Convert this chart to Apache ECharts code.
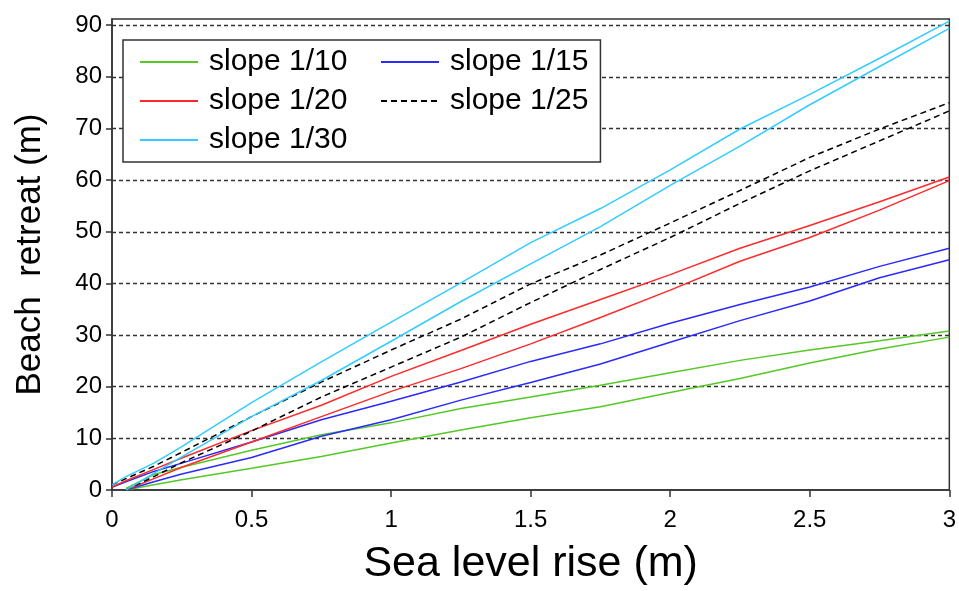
<!DOCTYPE html>
<html>
<head>
<meta charset="utf-8">
<script src="https://cdn.jsdelivr.net/npm/echarts@6/dist/echarts.min.js"></script>
<style>
  html, body { margin: 0; padding: 0; background: #fff; }
  #chart { width: 959px; height: 591px; }
</style>
</head>
<body>
<div id="chart"></div>
<script>
// Sea level rise (m) sample points shared by every curve
const seaLevelRise = [0, 0.05, 0.15, 0.25, 0.5, 0.75, 1, 1.25, 1.5, 1.75, 2, 2.25, 2.5, 2.75, 3];

// Beach retreat (m): upper and lower bound for each beach slope
const slope10Upper = [null, 0.3, 3.0, 4.4, 7.7, 10.7, 13.0, 15.8, 18.0, 20.3, 22.7, 25.1, 27.1, 28.9, 30.8];
const slope10Lower = [null, 0, 1.0, 2.0, 4.2, 6.5, 9.1, 11.6, 14.0, 16.1, 18.9, 21.6, 24.6, 27.3, 29.6];
const slope15Upper = [0.5, 1.6, 3.6, 5.2, 9.3, 13.6, 17.2, 20.9, 24.9, 28.3, 32.3, 35.9, 39.3, 43.3, 46.8];
const slope15Lower = [null, 0, 1.6, 3.1, 6.3, 10.4, 13.6, 17.4, 20.8, 24.4, 28.6, 32.8, 36.6, 41.1, 44.6];
const slope20Upper = [0.6, 1.8, 4.0, 6.2, 11.5, 16.4, 22.0, 27.0, 32.1, 36.9, 41.7, 46.8, 51.2, 55.8, 60.6];
const slope20Lower = [null, 0, 2.2, 4.4, 9.3, 14.2, 19.1, 23.5, 28.3, 33.4, 38.7, 44.3, 48.9, 54.2, 59.9];
const slope25Upper = [1.0, 2.2, 4.6, 7.3, 14.2, 20.9, 27.1, 33.1, 39.9, 45.5, 51.7, 58.0, 64.4, 69.9, 75.0];
const slope25Lower = [null, 0, 2.6, 5.3, 11.4, 18.0, 23.8, 29.6, 36.3, 42.7, 48.9, 55.5, 61.8, 67.6, 73.4];
const slope30Upper = [1.0, 2.6, 5.2, 8.4, 16.9, 24.8, 32.5, 40.1, 47.9, 54.5, 62.0, 69.9, 76.6, 83.6, 90.8];
const slope30Lower = [null, 0, 3.2, 6.4, 14.2, 21.2, 28.8, 36.5, 43.8, 51.0, 59.0, 66.6, 74.6, 82.0, 89.4];

// Axis ticks
const xTicks = [0, 0.5, 1, 1.5, 2, 2.5, 3];
const yTicks = [0, 10, 20, 30, 40, 50, 60, 70, 80, 90];

const legendLeft = ['slope 1/10', 'slope 1/20', 'slope 1/30'];
const legendRight = ['slope 1/15', 'slope 1/25'];

const FONT = "'Liberation Sans', Arial, sans-serif";
const AXIS_COLOR = '#333';

function pairs(values) {
  return seaLevelRise.map((x, i) => [x, values[i]]);
}

function curve(name, values, color, dashed) {
  return {
    name: name,
    type: 'line',
    data: pairs(values),
    symbol: 'none',
    silent: true,
    lineStyle: { color: color, width: 1.5, type: dashed ? [6, 4] : 'solid' },
    itemStyle: { color: color }
  };
}

const GREEN = '#55c826';
const RED = '#ff2a2a';
const BLUE = '#2a2aff';
const BLACK = '#000000';
const CYAN = '#33ccff';

const legendText = { fontFamily: FONT, fontSize: 30, color: '#000', lineHeight: 30, padding: [0, 0, 0, 6] };

// Legend keys show only the line sample, no marker
const legendKey = {
  itemGap: 9,
  itemWidth: 58,
  itemHeight: 14,
  itemStyle: { opacity: 0 },
  textStyle: legendText,
  selectedMode: false
};

const option = {
  animation: false,
  backgroundColor: '#fff',
  grid: {
    left: 112, right: 9, top: 19, bottom: 97,
    show: true, borderColor: AXIS_COLOR, borderWidth: 1.5, backgroundColor: 'transparent'
  },
  legend: [
    Object.assign({
      data: legendLeft,
      orient: 'vertical',
      left: 123, top: 40,
      padding: [7, 253, 7, 16],
      borderColor: AXIS_COLOR, borderWidth: 1.5,
      backgroundColor: '#fff'
    }, legendKey),
    Object.assign({
      data: legendRight,
      orient: 'vertical',
      left: 380, top: 47,
      padding: 0,
      z: 10
    }, legendKey)
  ],
  xAxis: {
    type: 'value',
    min: 0, max: 3, interval: 0.5,
    name: 'Sea level rise (m)',
    nameLocation: 'middle',
    nameGap: 53,
    nameTextStyle: { fontFamily: FONT, fontSize: 43, color: '#000' },
    axisLine: { show: true, lineStyle: { color: AXIS_COLOR, width: 1.5 } },
    axisTick: { show: true, inside: false, length: 7, lineStyle: { color: AXIS_COLOR, width: 1.5 } },
    axisLabel: {
      fontFamily: FONT, fontSize: 24, color: '#000', margin: 18,
      customValues: xTicks,
      formatter: v => String(v)
    },
    splitLine: { show: false }
  },
  yAxis: {
    type: 'value',
    min: 0, max: 91.2, interval: 10,
    name: 'Beach  retreat (m)',
    nameLocation: 'middle',
    nameGap: 64,
    nameRotate: 90,
    nameTextStyle: { fontFamily: FONT, fontSize: 35, color: '#000' },
    axisLine: { show: true, lineStyle: { color: AXIS_COLOR, width: 1.5 } },
    axisTick: { show: true, inside: false, length: 6, customValues: yTicks, lineStyle: { color: AXIS_COLOR, width: 1.5 } },
    axisLabel: {
      fontFamily: FONT, fontSize: 24, color: '#000', margin: 10,
      customValues: yTicks,
      formatter: v => String(v)
    },
    splitLine: {
      show: true,
      showMinLine: false,
      lineStyle: { color: AXIS_COLOR, width: 1.3, type: [4, 3] }
    }
  },
  series: [
    curve('slope 1/10', slope10Upper, GREEN),
    curve('slope 1/10', slope10Lower, GREEN),
    curve('slope 1/15', slope15Upper, BLUE),
    curve('slope 1/15', slope15Lower, BLUE),
    curve('slope 1/20', slope20Upper, RED),
    curve('slope 1/20', slope20Lower, RED),
    curve('slope 1/25', slope25Upper, BLACK, true),
    curve('slope 1/25', slope25Lower, BLACK, true),
    curve('slope 1/30', slope30Upper, CYAN),
    curve('slope 1/30', slope30Lower, CYAN)
  ]
};

const chart = echarts.init(document.getElementById('chart'), null, { renderer: 'canvas' });
chart.setOption(option);
</script>
</body>
</html>
